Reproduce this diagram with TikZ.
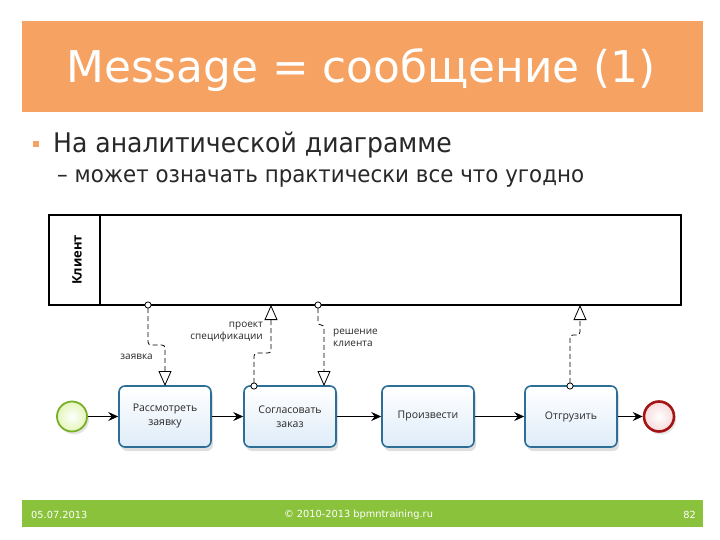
\documentclass[tikz,border=0pt]{standalone}
\usepackage{fontspec}
\setmainfont{DejaVu Sans}
\newfontfamily\dfont{Open Sans}
\newfontfamily\bodyfont[FakeStretch=0.93]{DejaVu Sans}
\usetikzlibrary{arrows.meta,shadows}
\definecolor{bandorange}{RGB}{245,162,98}
\definecolor{bandgreen}{RGB}{138,194,60}
\definecolor{bodytext}{RGB}{40,40,40}
\definecolor{taskborder}{RGB}{45,110,150}
\definecolor{taskfill}{RGB}{222,236,248}
\definecolor{startborder}{RGB}{120,175,40}
\definecolor{startfill}{RGB}{228,245,185}
\definecolor{endborder}{RGB}{165,20,20}
\definecolor{endfill}{RGB}{248,218,218}
\tikzset{
  taskbox/.style={draw=taskborder, line width=1.6pt, rounded corners=6pt,
    top color=white, bottom color=taskfill, minimum width=92pt, minimum height=61pt,
    align=center, font=\dfont\fontsize{10.5}{14}\selectfont, text=bodytext,
    drop shadow={shadow xshift=2pt, shadow yshift=-4pt, opacity=0.25, fill=gray}},
  seqflow/.style={-{Stealth[length=10pt,width=9pt,inset=3.5pt]}, line width=0.9pt},
  msgflow/.style={dashed, dash pattern=on 5pt off 3pt, line width=0.8pt, rounded corners=3pt,
    {Circle[open,length=7pt,width=7pt,fill=white]}-{Triangle[open,length=15pt,width=13pt,fill=white]}},
  msglabel/.style={font=\dfont\fontsize{10}{12}\selectfont, text=bodytext, inner sep=1pt, align=left},
  foottext/.style={text=white, font=\fontsize{9.8}{12}\selectfont, inner sep=0pt}
}
\begin{document}
\begin{tikzpicture}[x=1pt,y=-1pt]
\useasboundingbox (0,0) rectangle (720,540);
\fill[white] (0,0) rectangle (720,540);
% title band
\fill[bandorange] (22,21) rectangle (703,112);
\node[text=white, font=\fontsize{43.8}{50}\selectfont, anchor=base] (title) at (361,83) {Message = сообщение (1)};
% bullets
\node[fill=bandorange, minimum size=6pt, inner sep=0pt] (bul) at (36,144) {};
\node[anchor=base west, text=bodytext, font=\bodyfont\fontsize{27}{32}\selectfont, inner sep=0pt] (b1) at (53,153) {На аналитической диаграмме};
\node[anchor=base west, text=bodytext, font=\bodyfont\fontsize{23}{28}\selectfont, inner sep=0pt] (b2) at (57,183) {– может означать практически все что угодно};
% pool
\draw[line width=1.2pt] (49,215) rectangle (681,305);
\draw[line width=1.2pt] (100,215) -- (100,305);
\node[rotate=90, font=\dfont\bfseries\fontsize{13}{15}\selectfont] (lane) at (77,260) {Клиент};
% events and tasks
\node[circle, draw=startborder, line width=1.8pt, inner color=white, outer color=startfill, minimum size=30pt, inner sep=0pt,
  drop shadow={shadow xshift=2pt, shadow yshift=-3pt, opacity=0.2, fill=gray}] (start) at (72,416.5) {};
\node[taskbox] (t1) at (165,416.5) {Рассмотреть\\заявку};
\node[taskbox] (t2) at (290,416.5) {Согласовать\\заказ};
\node[taskbox] (t3) at (428,416.5) {Произвести};
\node[taskbox] (t4) at (571,416.5) {Отгрузить};
\node[circle, draw=endborder, line width=2.6pt, inner color=white, outer color=endfill, minimum size=30pt, inner sep=0pt,
  drop shadow={shadow xshift=2pt, shadow yshift=-3pt, opacity=0.2, fill=gray}] (end) at (659,416.5) {};
\draw[seqflow] (start) -- (t1);
\draw[seqflow] (t1) -- (t2);
\draw[seqflow] (t2) -- (t3);
\draw[seqflow] (t3) -- (t4);
\draw[seqflow] (t4) -- (end);
% message flow anchors
\coordinate (m1a) at (148,301.5);
\coordinate (m1b) at (165,386);
\coordinate (m2a) at (254,389.5);
\coordinate (m2b) at (271,305);
\coordinate (m3a) at (318,301.5);
\coordinate (m3b) at (324,386);
\coordinate (m4a) at (570,389.5);
\coordinate (m4b) at (580,305);
\draw[msgflow] (m1a) -- (148,345) -- (165,345) -- (m1b);
\draw[msgflow] (m2a) -- (254,353) -- (271,353) -- (m2b);
\draw[msgflow] (m3a) -- (318,325) -- (324,325) -- (m3b);
\draw[msgflow] (m4a) -- (570,335) -- (580,335) -- (m4b);
\node[msglabel, anchor=east] (l1) at (154,357) {заявка};
\node[msglabel, anchor=east, align=right] (l2) at (264,332) {проект\\спецификации};
\node[msglabel, anchor=west] (l3) at (332,338) {решение\\клиента};
% footer
\fill[bandgreen] (22,500) rectangle (703,527);
\node[foottext, anchor=west] (f1) at (31,515) {05.07.2013};
\node[foottext] (f2) at (358.5,515) {© 2010-2013 bpmntraining.ru};
\node[foottext, anchor=east] (f3) at (696,515) {82};
\end{tikzpicture}
\end{document}
